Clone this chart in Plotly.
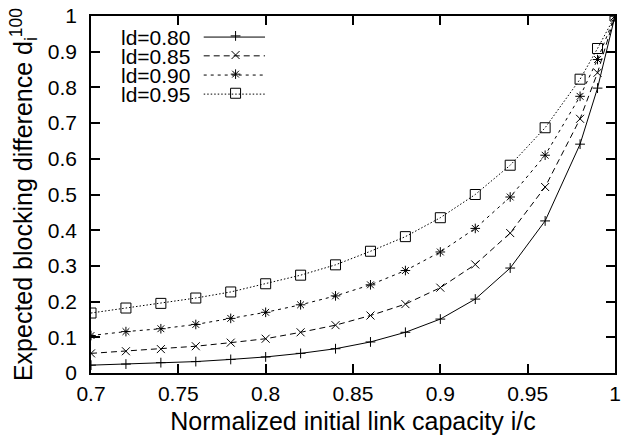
import plotly.graph_objects as go

x = [0.70, 0.72, 0.74, 0.76, 0.78, 0.80, 0.82, 0.84, 0.86, 0.88, 0.90, 0.92, 0.94, 0.96, 0.98, 0.99, 1.00]

ld080 = [0.022, 0.025, 0.029, 0.032, 0.038, 0.045, 0.055, 0.068, 0.087, 0.114, 0.151, 0.207, 0.294, 0.426, 0.641, 0.798, 1.0]
ld085 = [0.055, 0.061, 0.067, 0.075, 0.085, 0.096, 0.114, 0.134, 0.161, 0.193, 0.239, 0.304, 0.392, 0.521, 0.712, 0.841, 1.0]
ld090 = [0.105, 0.116, 0.124, 0.136, 0.153, 0.170, 0.191, 0.216, 0.247, 0.287, 0.339, 0.405, 0.493, 0.610, 0.775, 0.878, 1.0]
ld095 = [0.168, 0.182, 0.195, 0.210, 0.227, 0.250, 0.274, 0.303, 0.341, 0.382, 0.435, 0.500, 0.582, 0.687, 0.823, 0.909, 1.0]

names = ["ld=0.80", "ld=0.85", "ld=0.90", "ld=0.95"]
series = [ld080, ld085, ld090, ld095]
symbols = ["cross-thin-open", "x-thin-open", "asterisk-open", "square-open"]
msizes = [7, 8, 8, 10]
dashes = ["solid", "6px,4px", "3px,4px", "1.5px,2px"]

xtickvals = [0.7, 0.75, 0.8, 0.85, 0.9, 0.95, 1.0]
xticktext = ["0.7", "0.75", "0.8", "0.85", "0.9", "0.95", "1"]
ytickvals = [0, 0.1, 0.2, 0.3, 0.4, 0.5, 0.6, 0.7, 0.8, 0.9, 1.0]
yticktext = ["0", "0.1", "0.2", "0.3", "0.4", "0.5", "0.6", "0.7", "0.8", "0.9", "1"]

FONT = "Liberation Sans"
FS = 21

fig = go.Figure()
for name, ys, sym, ms, dash in zip(names, series, symbols, msizes, dashes):
    fig.add_trace(go.Scatter(
        x=x, y=ys, mode="lines+markers", name=name, showlegend=False,
        line=dict(color="black", width=1, dash=dash),
        marker=dict(symbol=sym, size=ms, color="black", line=dict(color="black", width=1)),
    ))
    # legend-only entry (marker sample of the key)
    fig.add_trace(go.Scatter(
        x=[None], y=[None], mode="markers", name="\u200b", showlegend=True,
        marker=dict(symbol=sym, size=ms, color="black", line=dict(color="black", width=1)),
    ))

# gnuplot-style key: text on the left, sample on the right
row_y = [0.941, 0.8884, 0.8346, 0.7812]
for name, yy, dash in zip(names, row_y, dashes):
    fig.add_annotation(x=0.1906, y=yy, xref="paper", yref="paper", text=name,
                       showarrow=False, xanchor="right", yanchor="middle", borderpad=0,
                       height=18, valign="middle",
                       font=dict(family=FONT, size=FS, color="black"))
    fig.add_shape(type="line", xref="paper", yref="paper",
                  x0=0.2151, x1=0.3321, y0=yy, y1=yy,
                  line=dict(color="black", width=1, dash=dash), layer="above")

fig.update_layout(
    width=625, height=442,
    margin=dict(l=91, r=4, t=12, b=69),
    paper_bgcolor="white", plot_bgcolor="white",
    font=dict(family=FONT, size=FS, color="black"),
    legend=dict(x=(237 - 20 - 91) / 530, y=1 - (32 - 14.6 - 12) / 361,
                xanchor="left", yanchor="top",
                bgcolor="rgba(0,0,0,0)", borderwidth=0, font=dict(size=12.4),
                tracegroupgap=0),
    xaxis=dict(range=[0.7, 1.0], tickvals=xtickvals, ticktext=xticktext,
               ticks="inside", ticklen=9, tickwidth=1.5, tickcolor="black",
               showline=True, linecolor="black", linewidth=1.5, mirror="ticks",
               showgrid=False, zeroline=False, ticklabelstandoff=1,
               title=dict(text="Normalized initial link capacity i/c", standoff=9)),
    yaxis=dict(range=[0, 1.0], tickvals=ytickvals, ticktext=yticktext,
               ticks="inside", ticklen=9, tickwidth=1.5, tickcolor="black",
               showline=True, linecolor="black", linewidth=1.5, mirror="ticks",
               showgrid=False, zeroline=False, ticklabelstandoff=8,
               title=dict(text="Expected blocking difference d<sub>i</sub><sup>100</sup>", standoff=8)),
)

fig.write_html("out.html")
